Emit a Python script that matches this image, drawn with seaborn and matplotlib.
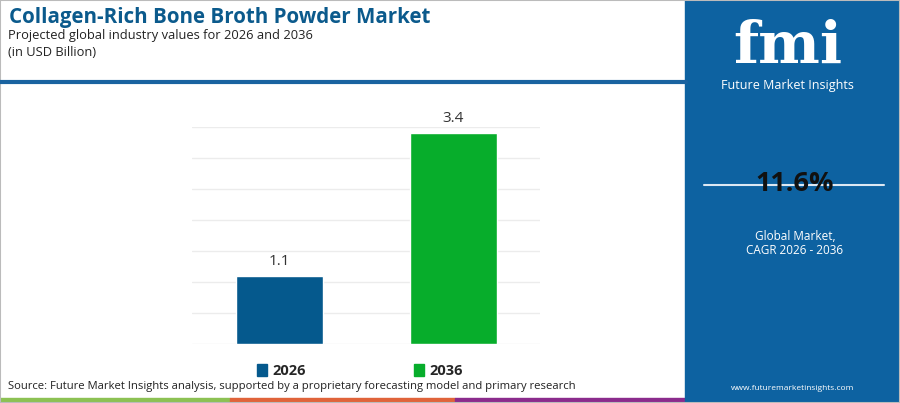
import numpy as np
import matplotlib
matplotlib.use('Agg')
import matplotlib.pyplot as plt
import matplotlib.patches as mpatches
import seaborn as sns

# chart data
years = ['2026', '2036']
values = [1.1, 3.4]
bar_colors = ['#05598d', '#07ad2b']
cagr = '11.6%'

title = 'Collagen-Rich Bone Broth Powder Market'
subtitle = 'Projected global industry values for 2026 and 2036'
unit_note = '(in USD Billion)'
source = 'Source: Future Market Insights analysis, supported by a proprietary forecasting model and primary research'

sns.set_theme(style='white')
plt.rcParams['font.family'] = ['Open Sans', 'DejaVu Sans']

W, H = 900, 403
fig = plt.figure(figsize=(W / 100, H / 100), dpi=100)
fig.patch.set_facecolor('white')


def fx(px):
    return px / W


def fy(py):
    return 1 - py / H


# bar chart area
ax = fig.add_axes([fx(192), fy(344), fx(540) - fx(192), fy(127) - fy(344)])
sns.barplot(x=years, y=values, hue=years, palette=bar_colors, width=0.5,
            ax=ax, legend=False, saturation=1)
ax.set_xlim(-0.5, 1.5)
ax.set_ylim(0, 3.5)
ax.set_yticks(np.arange(0, 3.51, 0.5))
ax.yaxis.grid(True, color='#ececec', linewidth=1)
ax.set_axisbelow(True)
ax.tick_params(left=False, bottom=False, labelleft=False, labelbottom=False)
for s in ax.spines.values():
    s.set_visible(False)
ax.set_xlabel('')
ax.set_ylabel('')
for cont in ax.containers:
    ax.bar_label(cont, fmt='%.1f', padding=5, fontsize=11, color='#333333')

# legend
handles = [mpatches.Patch(color=c, label=y) for y, c in zip(years, bar_colors)]
leg = fig.legend(handles=handles, loc='center', bbox_to_anchor=(fx(360), fy(371)),
                 ncol=2, frameon=False, handlelength=0.7, handleheight=0.9,
                 handletextpad=0.35, columnspacing=7.4,
                 prop={'weight': 'bold', 'size': 10.5})

# header
fig.text(fx(9), fy(17), title, fontsize=14.8, fontweight='bold', color='#0b5a8c',
         va='center', ha='left')
fig.text(fx(8), fy(35), subtitle, fontsize=9.3, color='#222222', va='center', ha='left')
fig.text(fx(8), fy(53), unit_note, fontsize=9.3, color='#222222', va='center', ha='left')
fig.add_artist(plt.Line2D([0, fx(686)], [fy(82), fy(82)], color='#1a63a0', linewidth=3))

# source and bottom stripe
fig.text(fx(8), fy(387), source, fontsize=8.1, color='#222222', va='center', ha='left')
for x0, x1, c in [(0, 230, '#8cc153'), (230, 455, '#e0633a'), (455, 686, '#8b2b8c')]:
    fig.add_artist(mpatches.Rectangle((fx(x0), 0), fx(x1 - x0), fy(398), color=c,
                                      transform=fig.transFigure))

# right panel
fig.add_artist(mpatches.Rectangle((fx(685), 0), fx(215), 1, color='#0d62a1',
                                  transform=fig.transFigure))
fig.text(fx(788), fy(63), 'fmi', fontsize=42, fontweight='bold', color='white',
         family='DejaVu Serif', ha='center', va='baseline')
fig.text(fx(787), fy(86), 'Future Market Insights', fontsize=9, color='white',
         ha='center', va='center')
fig.add_artist(plt.Line2D([fx(704), fx(884)], [fy(185), fy(185)], color='#dce8f3',
                          linewidth=1.5))
fig.text(fx(795), fy(184), cagr, fontsize=19.5, fontweight='bold', color='#111111',
         ha='center', va='center')
fig.text(fx(795), fy(237), 'Global Market,', fontsize=8.5, color='white',
         ha='center', va='center')
fig.text(fx(795), fy(250), 'CAGR 2026 - 2036', fontsize=8.5, color='white',
         ha='center', va='center')
fig.text(fx(793), fy(388), 'www.futuremarketinsights.com', fontsize=6, color='white',
         ha='center', va='center')

# outer border
fig.add_artist(mpatches.Rectangle((0, 0), 1, 1, fill=False, edgecolor='#bbbbbb',
                                  linewidth=1.5, transform=fig.transFigure))

fig.savefig('out.png', dpi=100)
